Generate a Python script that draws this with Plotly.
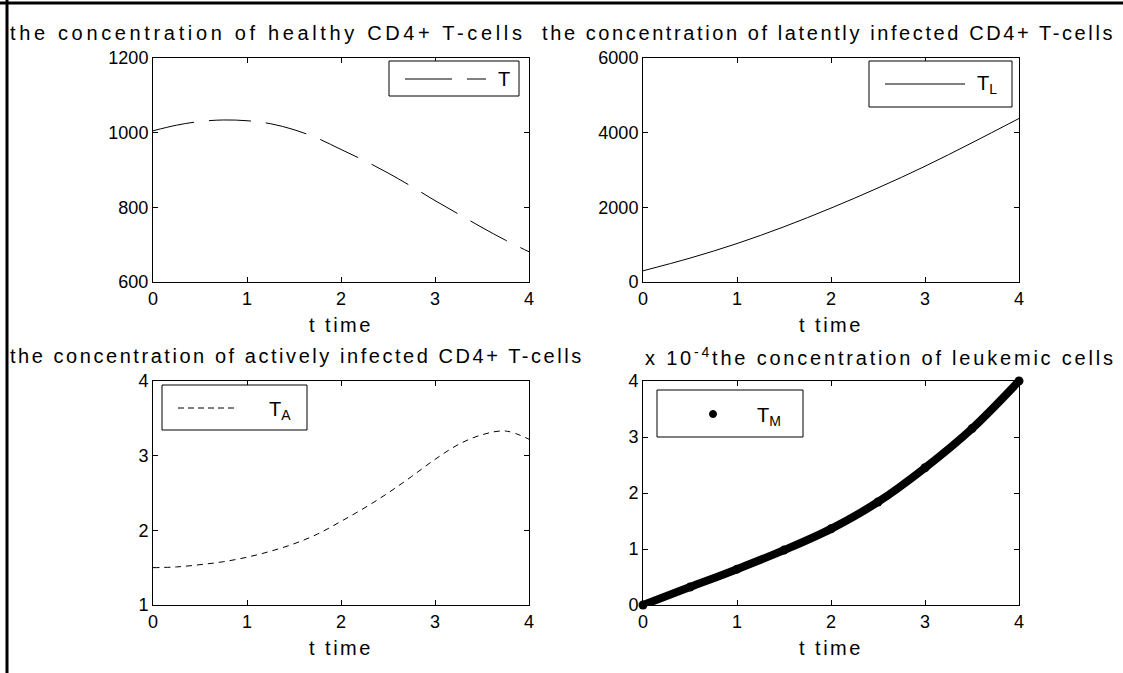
import plotly.graph_objects as go

# ---- data ----
t_T = [0, 0.25, 0.5, 0.75, 1.0, 1.25, 1.5, 1.75, 2.0, 2.25, 2.5, 2.75, 3.0, 3.25, 3.5, 3.75, 4.0]
T = [1005, 1020, 1030, 1034, 1032, 1024, 1008, 985, 955, 925, 892, 856, 818, 782, 746, 712, 681]

t_TL = [0, 0.5, 1.0, 1.5, 2.0, 2.5, 3.0, 3.5, 4.0]
TL = [300, 640, 1030, 1480, 1980, 2520, 3100, 3730, 4380]

t_TA = [0, 0.25, 0.5, 0.75, 1.0, 1.25, 1.5, 1.75, 2.0, 2.25, 2.5, 2.75, 3.0, 3.25, 3.5, 3.75, 4.0]
TA = [1.50, 1.51, 1.54, 1.58, 1.64, 1.72, 1.82, 1.95, 2.12, 2.30, 2.50, 2.72, 2.95, 3.15, 3.28, 3.33, 3.22]

t_TM = [0, 0.5, 1.0, 1.5, 2.0, 2.5, 3.0, 3.5, 4.0]
TM = [0, 0.32e-4, 0.64e-4, 0.98e-4, 1.36e-4, 1.84e-4, 2.45e-4, 3.15e-4, 4.00e-4]

x_ticks = [0, 1, 2, 3, 4]
T_ticks = [600, 800, 1000, 1200]
TL_ticks = [0, 2000, 4000, 6000]
TA_ticks = [1, 2, 3, 4]
TM_ticks = [0, 1e-4, 2e-4, 3e-4, 4e-4]
TM_ticktext = ["0", "1", "2", "3", "4"]

titles = [
    "the concentration of healthy CD4+ T-cells",
    "the concentration of latently infected CD4+ T-cells",
    "the concentration of actively infected CD4+ T-cells",
    "x 10<sup>-4</sup>the concentration of leukemic cells",
]
legend_names = ["T", "T<sub>L</sub>", "T<sub>A</sub>", "T<sub>M</sub>"]
xlabel = "t time"

FONT = "Liberation Sans, Arial, sans-serif"
W, H = 1123, 673


def px(x):
    return x / W


def py(y):
    return (H - y) / H


fig = go.Figure()
fig.add_trace(go.Scatter(x=t_T, y=T, mode="lines", name=legend_names[0], showlegend=False,
                         line=dict(color="black", width=1, dash="42px,15px", shape="spline"),
                         xaxis="x", yaxis="y"))
fig.add_trace(go.Scatter(x=t_TL, y=TL, mode="lines", name=legend_names[1], showlegend=False,
                         line=dict(color="black", width=1, shape="spline"),
                         xaxis="x2", yaxis="y2"))
fig.add_trace(go.Scatter(x=t_TA, y=TA, mode="lines", name=legend_names[2], showlegend=False,
                         line=dict(color="black", width=1, dash="6px,5px", shape="spline"),
                         xaxis="x3", yaxis="y3"))
fig.add_trace(go.Scatter(x=t_TM, y=TM, mode="lines+markers", name=legend_names[3], showlegend=False,
                         line=dict(color="black", width=8, shape="spline"),
                         marker=dict(color="black", size=9), cliponaxis=False,
                         xaxis="x4", yaxis="y4"))

axis_style = dict(showline=True, linecolor="black", linewidth=1, mirror="ticks",
                  ticks="inside", ticklen=5, tickcolor="black", showgrid=False,
                  zeroline=False, automargin=False,
                  tickfont=dict(family=FONT, size=18, color="black"))

xl = [px(153), px(529)]
xr = [px(643), px(1019)]
yt = [py(282), py(58)]
yb = [py(605), py(381)]

fig.update_layout(
    width=W, height=H, autosize=False,
    margin=dict(l=0, r=0, t=0, b=0, pad=0, autoexpand=False),
    paper_bgcolor="white", plot_bgcolor="white", showlegend=False,
    font=dict(family=FONT, color="black"),
    xaxis=dict(domain=xl, anchor="y", range=[0, 4], tickvals=x_ticks, **axis_style),
    yaxis=dict(domain=yt, anchor="x", range=[600, 1200], tickvals=T_ticks, **axis_style),
    xaxis2=dict(domain=xr, anchor="y2", range=[0, 4], tickvals=x_ticks, **axis_style),
    yaxis2=dict(domain=yt, anchor="x2", range=[0, 6000], tickvals=TL_ticks, **axis_style),
    xaxis3=dict(domain=xl, anchor="y3", range=[0, 4], tickvals=x_ticks, **axis_style),
    yaxis3=dict(domain=yb, anchor="x3", range=[1, 4], tickvals=TA_ticks, **axis_style),
    xaxis4=dict(domain=xr, anchor="y4", range=[0, 4], tickvals=x_ticks, **axis_style),
    yaxis4=dict(domain=yb, anchor="x4", range=[0, 4e-4], tickvals=TM_ticks,
                ticktext=TM_ticktext, **axis_style),
)

annotations = []
# subplot titles: (left x, centre y, letter spacing) in pixels
title_pos = [(8, 33, 3.65), (540, 33, 2.6), (8, 356, 2.55), (643, 356, 2.8)]
for txt, (x, y, ls) in zip(titles, title_pos):
    annotations.append(dict(
        text='<span style="letter-spacing:%.2fpx;font-size:20px">%s</span>' % (ls, txt),
        x=px(x), y=py(y), xref="paper", yref="paper",
        xanchor="left", yanchor="middle", showarrow=False,
        font=dict(family=FONT, size=20, color="black")))
# x-axis labels
for (x, y) in [(341, 325), (831, 325), (341, 648), (831, 648)]:
    annotations.append(dict(
        text='<span style="letter-spacing:2.5px;font-size:20px">%s</span>' % xlabel,
        x=px(x), y=py(y), xref="paper", yref="paper",
        xanchor="center", yanchor="middle", showarrow=False,
        font=dict(family=FONT, size=20, color="black")))
# legend labels
for name, (x, y) in zip(legend_names, [(496, 79), (975, 84), (267, 410), (755, 416)]):
    annotations.append(dict(text=name, x=px(x), y=py(y), xref="paper", yref="paper",
                            xanchor="left", yanchor="middle", showarrow=False,
                            font=dict(family=FONT, size=20, color="black")))
fig.update_layout(annotations=annotations)

shapes = [
    # figure frame (top and left edges)
    dict(type="line", xref="paper", yref="paper", x0=0, x1=1, y0=py(3), y1=py(3),
         line=dict(color="black", width=3)),
    dict(type="line", xref="paper", yref="paper", x0=px(7), x1=px(7), y0=0, y1=1,
         line=dict(color="black", width=3)),
]
# legend boxes
for (x0, y0, x1, y1) in [(389, 61, 519, 96), (869, 61, 1012, 107),
                         (162, 385, 307, 430), (657, 390, 803, 437)]:
    shapes.append(dict(type="rect", xref="paper", yref="paper",
                       x0=px(x0), x1=px(x1), y0=py(y1), y1=py(y0),
                       line=dict(color="black", width=1), fillcolor="white", layer="above"))
# legend samples
shapes.append(dict(type="line", xref="paper", yref="paper", x0=px(405), x1=px(486),
                   y0=py(79), y1=py(79), line=dict(color="black", width=1, dash="47px,15px")))
shapes.append(dict(type="line", xref="paper", yref="paper", x0=px(885), x1=px(965),
                   y0=py(84), y1=py(84), line=dict(color="black", width=1)))
shapes.append(dict(type="line", xref="paper", yref="paper", x0=px(178), x1=px(237),
                   y0=py(408), y1=py(408), line=dict(color="black", width=1, dash="6px,4px")))
shapes.append(dict(type="circle", xref="paper", yref="paper", x0=px(709.5), x1=px(716.5),
                   y0=py(417.5), y1=py(410.5), line=dict(color="black", width=1),
                   fillcolor="black"))
fig.update_layout(shapes=shapes)

fig.write_html("out.html", config={"displayModeBar": False},
               post_script="document.body.style.margin='0';document.body.style.overflow='hidden';")
